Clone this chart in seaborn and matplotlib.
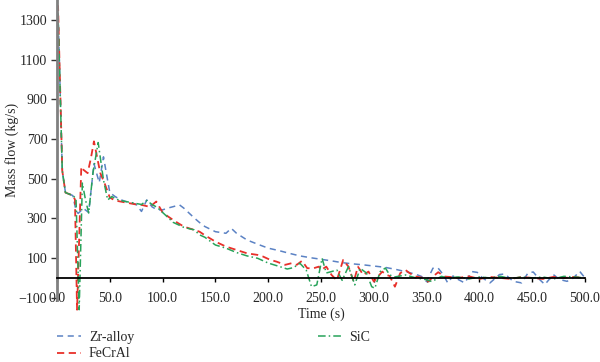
import numpy as np
import pandas as pd
import matplotlib
matplotlib.use("Agg")
import matplotlib.pyplot as plt
import seaborn as sns

# ---------------- data ----------------
zr_time = [0, 1, 5, 8, 15, 18, 20, 25, 30, 35, 40, 44, 50, 55, 60, 65, 70, 75, 80, 85,
           90, 95, 100, 105, 110, 116, 120, 125, 130, 135, 140, 150, 160, 165, 170, 180,
           190, 200, 210, 220, 230, 240, 250, 260, 270, 280, 290, 300, 310, 320, 330,
           340, 345, 350, 356, 361, 366, 370, 375, 380, 386, 393, 398, 403, 410, 419,
           424, 432, 440, 446, 451, 457, 462, 470, 476, 483, 489, 495, 500]
zr_flow = [1300, 1340, 540, 430, 415, 340, 325, 350, 330, 575, 480, 610, 430, 410, 395,
           385, 380, 370, 335, 393, 358, 343, 343, 352, 359, 368, 352, 327, 302, 279,
           259, 233, 225, 250, 225, 191, 170, 150, 138, 124, 111, 102, 94, 86, 77, 71,
           66, 60, 54, 44, 32, 18, 8, -18, 49, 49, 15, -25, 10, -8, -25, 32, 28, 0,
           -25, 17, 20, -17, -25, 25, 30, -8, -33, 17, -8, -17, 0, 33, 0]

fe_time = [0, 1, 5, 8, 15, 17, 19, 23, 25, 29, 32, 35, 41, 45, 50, 55, 60, 65, 70, 75,
           80, 88, 94, 100, 105, 110, 115, 120, 125, 130, 135, 140, 150, 160, 170, 180,
           190, 195, 202, 208, 216, 222, 227, 232, 237, 243, 248, 250, 255, 260, 265,
           271, 276, 281, 285, 290, 295, 300, 304, 308, 312, 315, 320, 325, 330, 334,
           339, 347, 352, 356, 361, 367, 372, 380, 390, 400, 410, 420, 430, 440, 450,
           460, 470, 480, 490, 500]
fe_flow = [1300, 1370, 540, 430, 415, 395, -160, 560, 545, 528, 600, 688, 528, 478, 405,
           390, 385, 380, 375, 370, 368, 358, 385, 330, 310, 292, 275, 259, 250, 242,
           233, 215, 183, 158, 141, 124, 116, 108, 91, 82, 66, 74, 66, 86, 49, 49, 57,
           40, 57, 15, -12, 91, 57, -18, 57, 15, 32, -18, 7, 32, 15, 10, -44, 24, 40,
           24, 8, 0, -18, 7, 29, 7, 5, 0, 8, -5, 5, 0, -5, 5, 0, -5, 5, 0, 5, 0]

sic_time = [0, 1, 5, 8, 15, 18, 21, 24, 27, 30, 34, 39, 44, 48, 52, 55, 60, 65, 70, 75,
            80, 85, 90, 95, 100, 105, 110, 120, 130, 135, 140, 150, 160, 170, 180, 190,
            200, 211, 218, 224, 230, 236, 241, 246, 251, 255, 260, 265, 270, 276, 282,
            287, 293, 298, 301, 306, 311, 315, 320, 325, 330, 340, 349, 355, 364, 370,
            380, 390, 400, 410, 420, 430, 440, 450, 460, 470, 480, 490, 500]
sic_flow = [1300, 1330, 540, 430, 415, 400, -160, 478, 393, 327, 528, 682, 494, 393, 410,
            400, 390, 385, 380, 375, 370, 390, 370, 355, 330, 305, 280, 255, 242, 217,
            205, 166, 150, 128, 111, 99, 75, 57, 45, 52, 74, 40, -44, -35, 99, 25, 32,
            40, -12, 57, -35, 49, 25, -44, -52, 32, 50, 15, 5, 10, 15, 0, -8, -18, 8, 0,
            5, -5, 5, 0, 8, -3, 5, 0, 5, -5, 8, 5, 0]

series_names = ["Zr-alloy", "FeCrAl", "SiC"]
x_ticks = [0, 50, 100, 150, 200, 250, 300, 350, 400, 450, 500]
y_ticks = [-100, 100, 300, 500, 700, 900, 1100, 1300]

# ---------------- plotting ----------------
sns.set_style("white")
plt.rcParams["font.family"] = ["Liberation Serif", "DejaVu Serif"]

fig = plt.figure(figsize=(6.0, 3.62), dpi=100)
ax = fig.add_axes([0.095, 0.1417, 0.88, 0.8583])

styles = {
    "Zr-alloy": dict(color="#5b82c4", linestyle=(0, (4, 3)), linewidth=1.1),
    "FeCrAl": dict(color="#e8302a", linestyle=(0, (4, 2.5)), linewidth=1.3),
    "SiC": dict(color="#27a35a", linestyle=(0, (5, 2, 1, 2)), linewidth=1.1),
}
data = {
    "Zr-alloy": (zr_time, zr_flow),
    "FeCrAl": (fe_time, fe_flow),
    "SiC": (sic_time, sic_flow),
}
for name in series_names:
    t, v = data[name]
    df = pd.DataFrame({"Time (s)": t, "Mass flow (kg/s)": v})
    sns.lineplot(data=df, x="Time (s)", y="Mass flow (kg/s)", ax=ax,
                 estimator=None, sort=False, label=name, **styles[name])

ax.set_xlim(0, 500)
ax.set_ylim(-165, 1400)
ax.set_xticks(x_ticks)
ax.set_xticklabels([f"{v:.1f}" for v in x_ticks])
ax.set_yticks(y_ticks)
ax.set_yticklabels([("\u2212" + str(-v)) if v < 0 else str(v) for v in y_ticks])

for s in ["top", "right"]:
    ax.spines[s].set_visible(False)
ax.spines["bottom"].set_position(("data", 0))
ax.spines["bottom"].set_color("black")
ax.spines["bottom"].set_linewidth(1.3)
ax.spines["left"].set_color("#808080")
ax.spines["left"].set_linewidth(2.0)
ax.spines["left"].set_bounds(-110, 1400)

ax.tick_params(axis="x", direction="out", length=3, width=1, color="black",
               labelsize=10, pad=7, bottom=True)
ax.tick_params(axis="y", direction="out", length=4, width=1, color="#333333",
               labelsize=10, pad=3, left=True)

ax.set_xlabel("Time (s)", fontsize=10, labelpad=2)
ax.set_ylabel("Mass flow (kg/s)", fontsize=10)
ax.yaxis.set_label_coords(-0.072, 0.517)

ax.get_legend().remove()
h, l = ax.get_legend_handles_labels()
fig.legend(h, l, loc="upper left", bbox_to_anchor=(0.095, 1 - 331 / 362),
           ncol=2, frameon=False, fontsize=10, handlelength=1.7,
           handletextpad=0.6, columnspacing=13.2, labelspacing=0.25,
           borderaxespad=0, borderpad=0)

fig.savefig("out.png", dpi=100)
